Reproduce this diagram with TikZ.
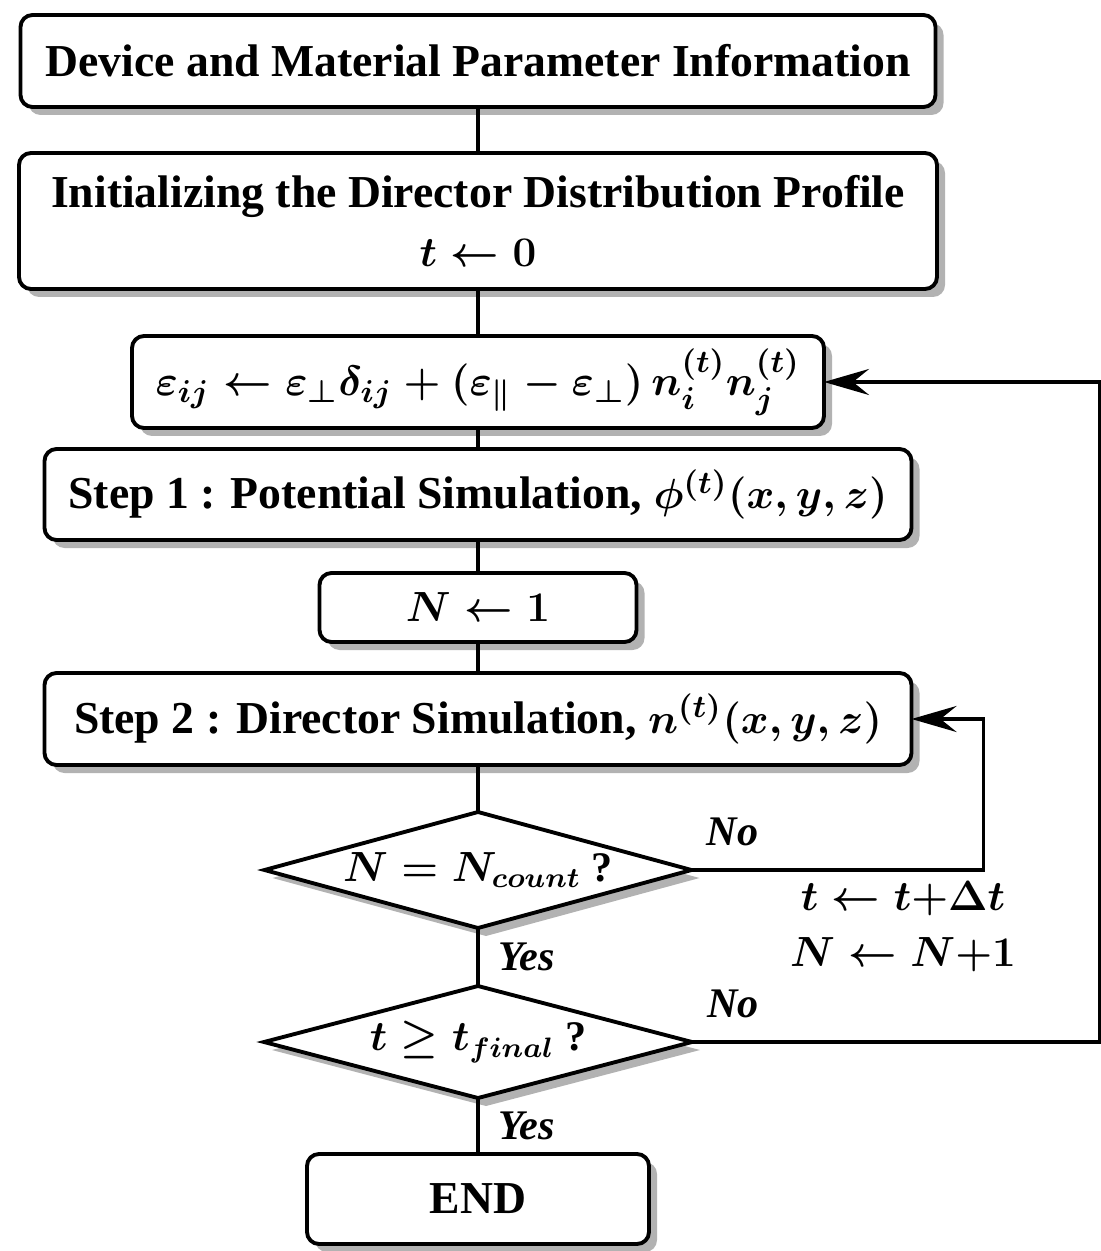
\documentclass[tikz,border=0pt]{standalone}
\usepackage{amsmath,amssymb}
\usepackage{fontspec}
\setmainfont{Liberation Serif}
\usetikzlibrary{positioning,arrows.meta,shapes.geometric,shadows}

\begin{document}
\begin{tikzpicture}[
  box/.style={draw, line width=1.1pt, rounded corners=1.2mm, fill=white, outer sep=0pt,
              drop shadow={shadow xshift=0.8mm, shadow yshift=-0.8mm, fill=gray!60, opacity=1},
              inner sep=0pt, align=center,
              font=\fontsize{13}{17}\selectfont\bfseries\boldmath},
  test/.style={diamond, draw, line width=1.1pt, fill=white, aspect=3.7, inner sep=0pt, outer sep=0pt,
              drop shadow={shadow xshift=0.8mm, shadow yshift=-0.8mm, fill=gray!60, opacity=1},
              font=\fontsize{12}{15}\selectfont\bfseries\boldmath},
  link/.style={line width=1.1pt},
  arr/.style={-{Stealth[length=4.5mm, width=2.6mm, inset=1.6mm]}, line width=1.1pt},
  lbl/.style={font=\fontsize{12}{15}\selectfont\bfseries\itshape\boldmath}]
\useasboundingbox (0,0) rectangle (11.01,-12.51);
\node[box, minimum width=9.15cm, minimum height=0.92cm] (dev) at (4.78,-0.61)
  {Device and Material Parameter Information};
\node[box, below=0.46cm of dev, minimum width=9.18cm, minimum height=1.36cm] (init)
  {Initializing the Director Distribution Profile\\ $t \leftarrow 0$};
\node[box, below=0.47cm of init, minimum width=6.92cm, minimum height=0.92cm] (eps)
  {$\varepsilon_{ij} \leftarrow \varepsilon_{\perp}\delta_{ij} + (\varepsilon_{\parallel} - \varepsilon_{\perp})\, n_i^{(t)} n_j^{(t)}$};
\node[box, below=0.21cm of eps, minimum width=8.67cm, minimum height=0.91cm] (step1)
  {Step 1 : Potential Simulation, $\phi^{(t)}(x, y, z)$};
\node[box, below=0.33cm of step1, minimum width=3.17cm, minimum height=0.69cm] (nset)
  {$N \leftarrow 1$};
\node[box, below=0.31cm of nset, minimum width=8.67cm, minimum height=0.92cm] (step2)
  {Step 2 : Director Simulation, $n^{(t)}(x, y, z)$};
\node[test, below=0.47cm of step2, minimum width=4.27cm, minimum height=1.16cm] (ncount)
  {$N = N_{count}$ ?};
\node[test, below=0.58cm of ncount, minimum width=4.28cm, minimum height=1.12cm] (tfin)
  {$t \geq t_{final}$ ?};
\node[box, below=0.56cm of tfin, minimum width=3.42cm, minimum height=0.90cm] (fin)
  {END};
\node[lbl, font=\fontsize{11.5}{16}\selectfont\bfseries\boldmath, align=center] (upd) at (9.03,-9.27)
  {$t \leftarrow t{+}\Delta t$\\ $N \leftarrow N{+}1$};
\draw[link] (dev) -- (init);
\draw[link] (init) -- (eps);
\draw[link] (eps) -- (step1);
\draw[link] (step1) -- (nset);
\draw[link] (nset) -- (step2);
\draw[link] (step2) -- (ncount);
\draw[link] (ncount) -- node[lbl, right=2pt] {Yes} (tfin);
\draw[link] (tfin) -- node[lbl, right=2pt] {Yes} (fin);
\draw[arr] (ncount.east) -- node[lbl, above=3pt, pos=0.14] {No} ++(2.92,0) |- (step2.east);
\draw[arr] (tfin.east) -- node[lbl, above=3pt, pos=0.10] {No} ++(4.08,0) |- (eps.east);
\end{tikzpicture}
\end{document}
